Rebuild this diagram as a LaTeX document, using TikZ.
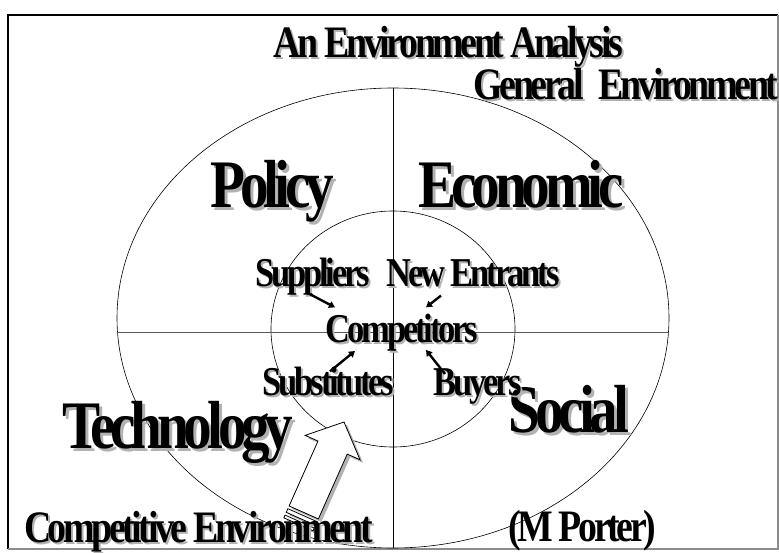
\documentclass[tikz,border=0pt]{standalone}
\usepackage{graphicx}
\usepackage{fontspec}
\setmainfont{Liberation Serif}[LetterSpace=-9]
\usetikzlibrary{arrows.meta,shapes.geometric}

\newcommand{\squeeze}[1]{\scalebox{0.84}[1]{#1}}

\begin{document}
\begin{tikzpicture}[
    x=1pt, y=-1pt,
    big/.style={font=\fontsize{68}{68}\selectfont\bfseries, inner sep=0pt, anchor=base},
    head/.style={font=\fontsize{45}{45}\selectfont\bfseries, inner sep=0pt, anchor=base},
    mid/.style={font=\fontsize{41}{41}\selectfont\bfseries, inner sep=0pt, anchor=base},
    shade/.style={text=black!30},
    ring/.style={ellipse, draw, line width=0.6pt, inner sep=0pt},
    pull/.style={-{Triangle[length=6pt,width=7pt]}, line width=2.4pt},
    bshade/.style={fill=black!30, draw=none},
    bfill/.style={fill=white, draw=black, line width=0.8pt}
  ]
    \useasboundingbox (0,0) rectangle (779,553);
    \draw[line width=2pt] (8,549) -- (8,15) -- (778,15);
    \draw[black!45, line width=1.2pt] (778,15) -- (778,549) -- (8,549);

    \node[ring, minimum width=552pt, minimum height=460pt] (outer) at (393,318) {};
    \node[ring, minimum width=244pt, minimum height=236pt] (inner) at (393,329) {};
    \draw[line width=0.6pt] (outer.north) -- (outer.south);
    \draw[black!65, line width=0.9pt] ([yshift=-14pt]outer.west) -- ([yshift=-14pt]outer.east);

    \foreach \tx/\ty/\sty in {347/425/bshade, 344/422/bfill} {
      \begin{scope}[shift={(\tx,\ty)}, rotate=66]
        \draw[\sty] (0,0) -- (-28,30) -- (-28,16) -- (-99,16) -- (-99,-16) -- (-28,-16) -- (-28,-30) -- cycle;
        \draw[\sty] (-102,16) rectangle (-106,-16);
        \draw[\sty] (-109,16) rectangle (-112,-16);
      \end{scope}
    }

    \foreach \n/\p/\t in {policy/{272.5,208}/Policy, economic/{521,208}/Economic,
        social/{569,432}/Social, technology/{178,448}/Technology} {
      \node[big, shade, xshift=3pt, yshift=-3pt] at (\p) {\squeeze{\t}};
      \node[big] (\n) at (\p) {\squeeze{\t}};
    }
    \foreach \n/\p/\t in {title/{448.5,58}/An Environment Analysis,
        general/{626,100}/General\hspace{.4em}Environment,
        competitive/{198.5,542}/Competitive Environment} {
      \node[head, shade, xshift=2pt, yshift=-2pt] at (\p) {\squeeze{\t}};
      \node[head] (\n) at (\p) {\squeeze{\t}};
    }
    \foreach \n/\p/\t in {suppliers/{312.5,287}/Suppliers, entrants/{473,287}/New Entrants,
        competitors/{402,342}/Competitors, substitutes/{328.5,395}/Substitutes,
        buyers/{477.5,395}/Buyers} {
      \node[mid, shade, xshift=2pt, yshift=-2pt] at (\p) {\squeeze{\t}};
      \node[mid] (\n) at (\p) {\squeeze{\t}};
    }
    \node[head] (porter) at (582,541) {\squeeze{(M Porter)}};

    \draw[pull] ([xshift=-5pt, yshift=3pt]suppliers.south) -- ([xshift=-67pt, yshift=6pt]competitors.north);
    \draw[pull] ([xshift=-32pt, yshift=-8pt]entrants.south) -- ([xshift=24pt, yshift=6pt]competitors.north);
    \draw[pull] ([xshift=1.5pt, yshift=-5pt]substitutes.north) -- ([xshift=-47pt]competitors.south);
    \draw[pull] ([xshift=-32.5pt, yshift=-6pt]buyers.north) -- ([xshift=24pt, yshift=1pt]competitors.south);
  \end{tikzpicture}
\end{document}
